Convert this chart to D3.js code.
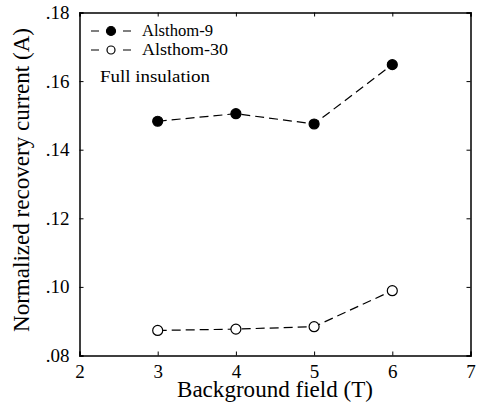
<!DOCTYPE html>
<html>
<head>
<meta charset="utf-8">
<script src="https://cdn.jsdelivr.net/npm/d3@7"></script>
<style>
  body { margin: 0; background: #fff; }
  svg, svg text { font-family: "Liberation Serif", "DejaVu Serif", serif; }
</style>
</head>
<body>
<svg id="graph" width="484" height="407"></svg>
<script>
// données
const champs = [3, 4, 5, 6];
const alsthom9 = [0.1483, 0.1505, 0.1475, 0.1648];
const alsthom30 = [0.0873, 0.0877, 0.0884, 0.0989];
const ticksX = [2, 3, 4, 5, 6, 7];
const ticksY = [0.08, 0.10, 0.12, 0.14, 0.16, 0.18];
const series = ["Alsthom-9", "Alsthom-30"];

const gauche = 79.5, droite = 470.5, haut = 12.5, bas = 355.5;

const svg = d3.select('#graph');

const x = d3.scaleLinear().domain([2, 7]).range([gauche, droite]);
const y = d3.scaleLinear().domain([0.08, 0.18]).range([bas, haut]);

const fmtY = d => d3.format(".2f")(d).replace(/^0/, "");

// axes avec ticks vers l'intérieur
svg.append("g").attr("transform", `translate(0,${bas})`)
  .call(d3.axisBottom(x).tickValues(ticksX).tickSize(-4).tickPadding(9).tickFormat(d3.format("d")))
  .call(g => g.selectAll("text").attr("font-size", 19));

svg.append("g").attr("transform", `translate(0,${haut})`)
  .call(d3.axisTop(x).tickValues(ticksX).tickSize(-4).tickFormat(""));

svg.append("g").attr("transform", `translate(${gauche},0)`)
  .call(d3.axisLeft(y).tickValues(ticksY).tickSize(-4).tickPadding(10).tickFormat(fmtY))
  .call(g => g.selectAll("text").attr("font-size", 19));

svg.append("g").attr("transform", `translate(${droite},0)`)
  .call(d3.axisRight(y).tickValues(ticksY).tickSize(-4).tickFormat(""));

svg.selectAll("g").attr("font-family", null);
svg.selectAll(".domain").attr("stroke", "#000").attr("stroke-width", 1.5);
svg.selectAll(".tick line").attr("stroke", "#000");

// titres des axes
svg.append("text")
  .attr("x", 275).attr("y", 397)
  .attr("text-anchor", "middle").attr("font-size", 22.5)
  .attr("textLength", 196).attr("lengthAdjust", "spacingAndGlyphs")
  .text("Background field (T)");

svg.append("text")
  .attr("transform", "translate(29,180) rotate(-90)")
  .attr("text-anchor", "middle").attr("font-size", 22.5)
  .attr("textLength", 304).attr("lengthAdjust", "spacingAndGlyphs")
  .text("Normalized recovery current (A)");

// courbes
const ligne = d3.line().x((d, i) => x(champs[i])).y(d => y(d));

[alsthom9, alsthom30].forEach((vals, k) => {
  svg.append("path")
    .attr("d", ligne(vals))
    .attr("fill", "none")
    .attr("stroke", "#000")
    .attr("stroke-width", 1.2)
    .attr("stroke-dasharray", "9,5");

  svg.selectAll(null).data(vals).enter().append("circle")
    .attr("cx", (d, i) => x(champs[i]))
    .attr("cy", d => y(d))
    .attr("r", 5)
    .attr("fill", k === 0 ? "#000" : "#fff")
    .attr("stroke", "#000")
    .attr("stroke-width", 1.2);
});

// légende
const largeurs = [71, 86];
series.forEach((nom, k) => {
  const ly = 31 + k * 19;
  svg.append("line")
    .attr("x1", 91).attr("x2", 131).attr("y1", ly).attr("y2", ly)
    .attr("stroke", "#000").attr("stroke-width", 1.2)
    .attr("stroke-dasharray", "8,8");
  svg.append("circle")
    .attr("cx", 111).attr("cy", ly).attr("r", k === 0 ? 4.5 : 4)
    .attr("fill", k === 0 ? "#000" : "#fff")
    .attr("stroke", "#000").attr("stroke-width", 1.2);
  svg.append("text")
    .attr("x", 142).attr("y", ly + 5)
    .attr("font-size", 16.5)
    .attr("textLength", largeurs[k]).attr("lengthAdjust", "spacingAndGlyphs")
    .text(nom);
});

svg.append("text")
  .attr("x", 100).attr("y", 82)
  .attr("font-size", 17)
  .attr("textLength", 110).attr("lengthAdjust", "spacingAndGlyphs")
  .text("Full insulation");
</script>
</body>
</html>
